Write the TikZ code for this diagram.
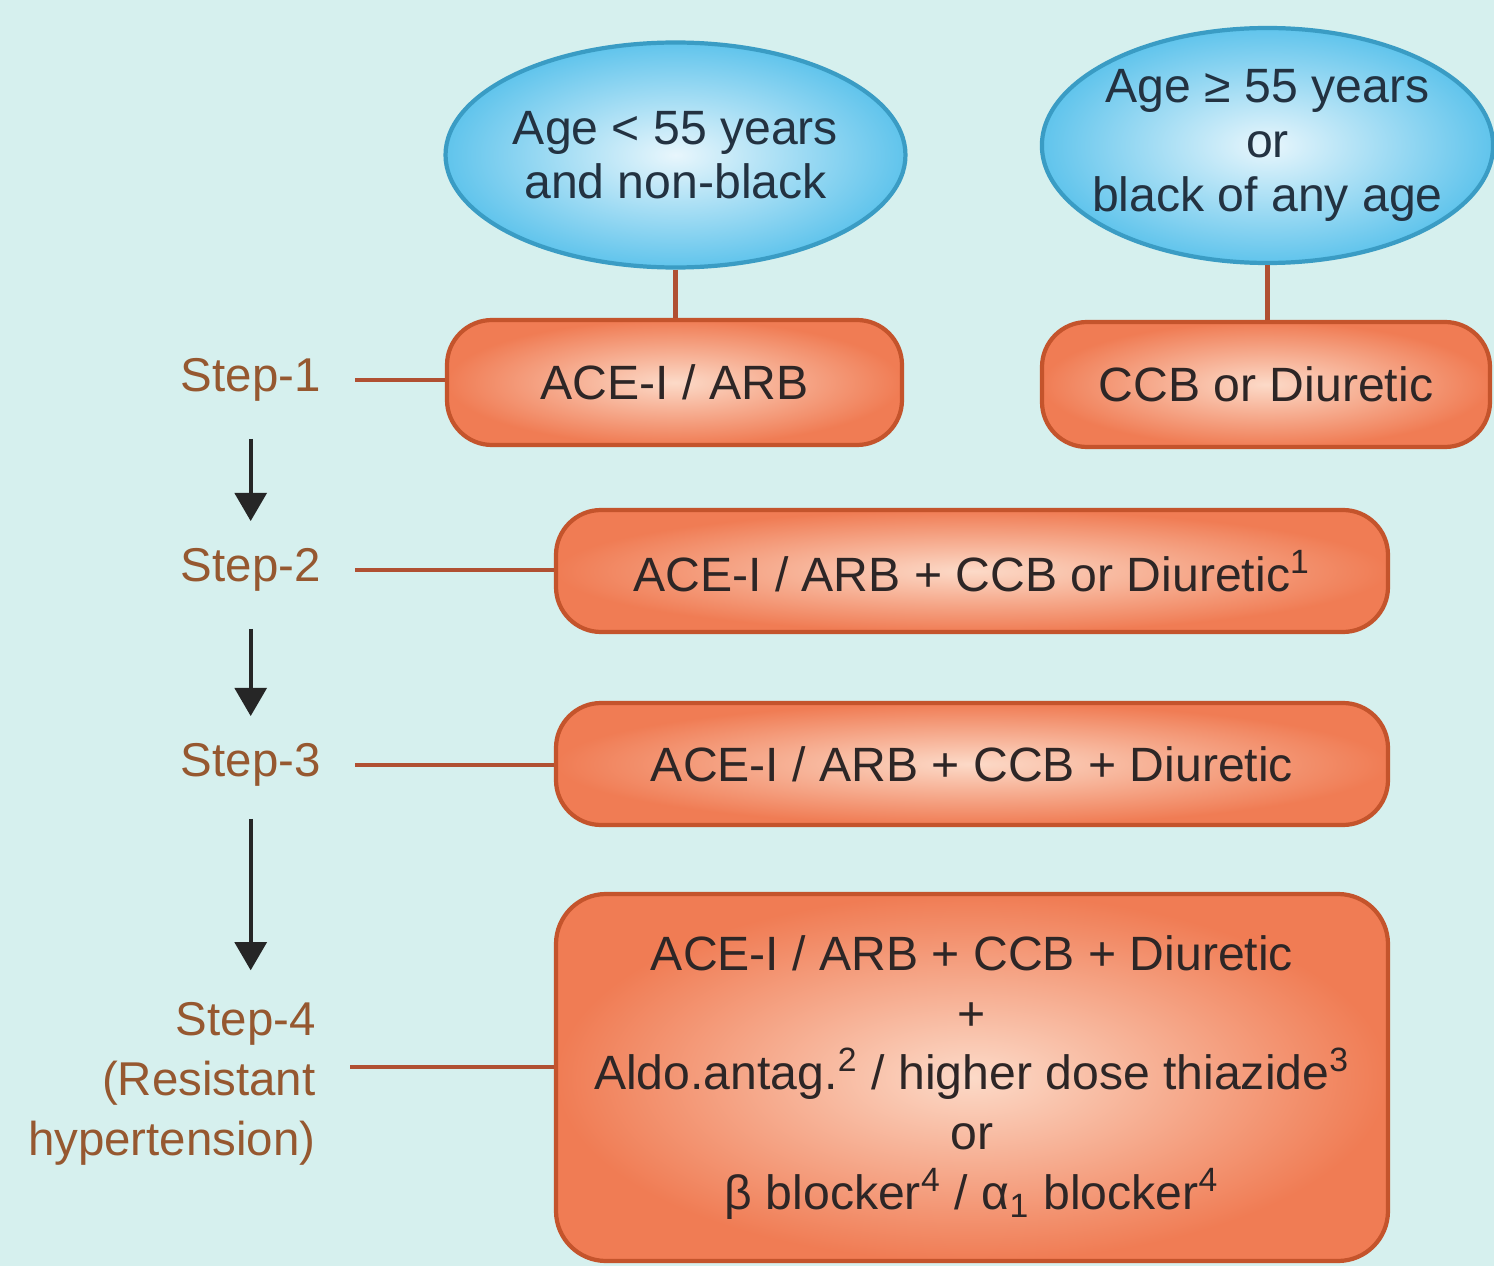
\documentclass[tikz,border=0pt]{standalone}
\usepackage{fontspec}
\setmainfont{Liberation Sans}
\usetikzlibrary{positioning,shapes.geometric,arrows.meta}

\definecolor{bgcyan}{RGB}{214,240,238}
\definecolor{ageedge}{RGB}{58,156,196}
\definecolor{ageout}{RGB}{96,196,236}
\definecolor{agein}{RGB}{232,246,252}
\definecolor{agetext}{RGB}{35,50,65}
\definecolor{boxedge}{RGB}{196,84,44}
\definecolor{boxout}{RGB}{240,124,84}
\definecolor{boxin}{RGB}{252,218,200}
\definecolor{boxtext}{RGB}{45,38,38}
\definecolor{steptext}{RGB}{150,88,48}
\definecolor{tiecolor}{RGB}{176,80,50}

\tikzset{
  agegroup/.style={ellipse, draw=ageedge, line width=1.2pt, inner color=agein, outer color=ageout,
    inner sep=0pt, minimum width=4.55cm, minimum height=2.25cm, align=center, text=agetext,
    font=\fontsize{13.7}{15.5}\selectfont},
  drugbox/.style={rectangle, rounded corners=0.45cm, draw=boxedge, line width=1.2pt,
    inner color=boxin, outer color=boxout, align=center, text=boxtext,
    font=\fontsize{13.7}{17}\selectfont},
  steplabel/.style={text=steptext, align=right, font=\fontsize{13.5}{17}\selectfont},
  tie/.style={draw=tiecolor, line width=0.9pt},
  goes/.style={-{Triangle[width=9pt,length=8pt]}, line width=1.1pt, draw=black!85},
}

\begin{document}
\begin{tikzpicture}
\useasboundingbox (0,0) rectangle (14.94,12.66);
\fill[bgcyan] (0,0) rectangle (14.94,12.66);

\node[agegroup] (young) at (6.755,11.11) {Age < 55 years\\and non-black};
\node[agegroup, inner xsep=-4.5pt, minimum width=4.5cm, minimum height=2.35cm] (old) at (12.675,11.205) {Age ≥ 55 years\\or\\black of any age};

\node[drugbox, minimum width=4.55cm, minimum height=1.25cm] (acearb) at (6.745,8.835) {ACE-I / ARB};
\node[drugbox, minimum width=4.48cm, minimum height=1.25cm] (ccbdiu) at (12.66,8.815) {CCB or Diuretic};
\node[drugbox, minimum width=8.32cm, minimum height=1.22cm] (dual) at (9.72,6.95) {ACE-I / ARB + CCB or Diuretic\textsuperscript{1}};
\node[drugbox, minimum width=8.32cm, minimum height=1.22cm] (triple) at (9.72,5.02) {ACE-I / ARB + CCB + Diuretic};
\node[drugbox, minimum width=8.32cm, minimum height=3.67cm, rounded corners=0.5cm] (resist) at (9.72,1.885)
  {ACE-I / ARB + CCB + Diuretic\\+\\Aldo.antag.\textsuperscript{2} / higher dose thiazide\textsuperscript{3}\\or\\β blocker\textsuperscript{4} / α\textsubscript{1} blocker\textsuperscript{4}};

\node[steplabel, anchor=east] (step1) at (3.33,8.86) {Step-1};
\node[steplabel, anchor=east] (step2) at (3.33,6.96) {Step-2};
\node[steplabel, anchor=east] (step3) at (3.33,5.01) {Step-3};
\node[steplabel, anchor=east] (step4) at (3.28,1.82) {Step-4\\(Resistant\\hypertension)};

\draw[tie, line width=1.4pt] (young.south) -- (young.south |- acearb.north);
\draw[tie, line width=1.4pt] (old.south) -- (old.south |- ccbdiu.north);

\draw[tie, shorten <=0.22cm] (step1.east) -- (step1.east -| acearb.west);
\draw[tie, shorten <=0.22cm] (step2.east) -- (step2.east -| dual.west);
\draw[tie, shorten <=0.22cm] (step3.east) -- (step3.east -| triple.west);
\draw[tie, shorten <=0.22cm] ([yshift=1.7mm]step4.east) -- ([yshift=1.7mm]step4.east -| resist.west);

\draw[goes, shorten <=0.25cm, shorten >=0.15cm] (step1) -- (step2);
\draw[goes, shorten <=0.25cm, shorten >=0.15cm] (step2) -- (step3);
\draw[goes, shorten <=0.2cm, shorten >=0.2cm] (step3.south) -- (step3.south |- step4.north);
\end{tikzpicture}
\end{document}
